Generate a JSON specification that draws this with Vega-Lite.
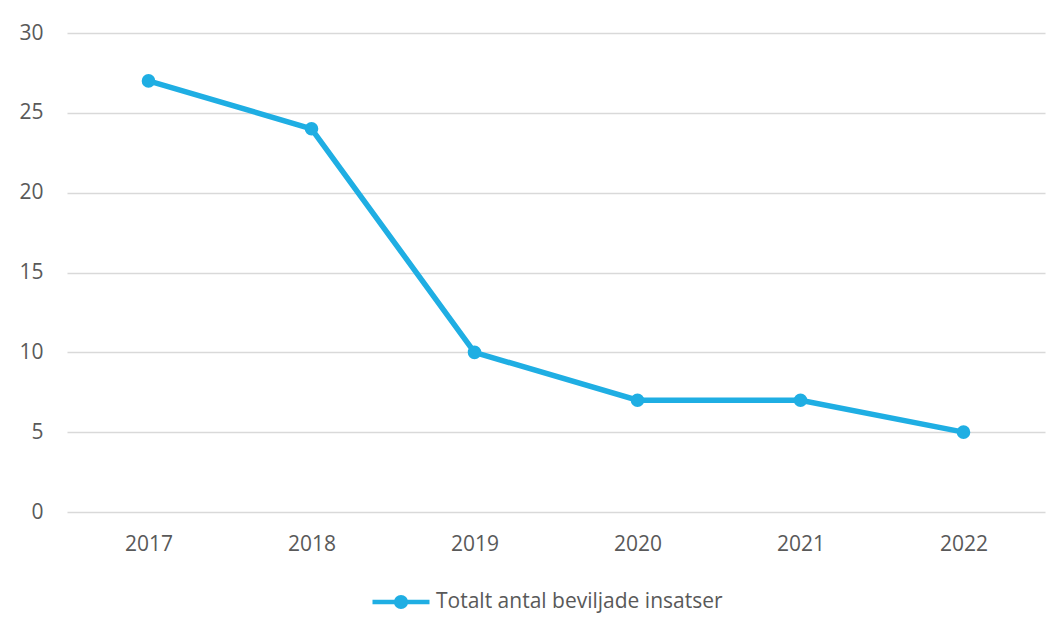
{
  "$schema": "https://vega.github.io/schema/vega-lite/v6.json",
  "autosize": "none",
  "width": 978,
  "height": 479,
  "padding": {"left": 67, "top": 33, "right": 18, "bottom": 118},
  "background": "white",
  "data": {"values": [
    {"year": "2017", "value": 27},
    {"year": "2018", "value": 24},
    {"year": "2019", "value": 10},
    {"year": "2020", "value": 7},
    {"year": "2021", "value": 7},
    {"year": "2022", "value": 5}
  ]},
  "mark": {"type": "line", "strokeWidth": 5.5, "point": {"size": 185, "filled": true, "opacity": 1}},
  "encoding": {
    "x": {"field": "year", "type": "ordinal", "title": null,
      "scale": {"type": "point", "padding": 0.5},
      "axis": {"labelAngle": 0, "domain": false, "ticks": false, "grid": false, "labelPadding": 21}},
    "y": {"field": "value", "type": "quantitative", "title": null,
      "scale": {"domain": [0, 30], "nice": false},
      "axis": {"values": [0, 5, 10, 15, 20, 25, 30], "domain": false, "ticks": false, "labelPadding": 24}},
    "color": {"datum": "Totalt antal beviljade insatser", "type": "nominal",
      "scale": {"range": ["#1FAEE3"]},
      "legend": {"title": null, "orient": "none", "legendX": 303, "legendY": 538, "padding": 0,
        "symbolType": "M-1,0L1,0M0.17,0A0.17,0.17 0 1,1 -0.17,0A0.17,0.17 0 1,1 0.17,0Z",
        "symbolSize": 3249, "symbolStrokeWidth": 4.5, "symbolFillColor": "#1FAEE3", "symbolStrokeColor": "#1FAEE3",
        "labelOffset": 4}}
  },
  "config": {
    "view": {"stroke": null},
    "font": "Open Sans",
    "axis": {"labelFont": "Open Sans", "labelFontSize": 21, "labelColor": "#595959", "gridColor": "#D9D9D9", "gridWidth": 1.5},
    "legend": {"labelFont": "Open Sans", "labelFontSize": 21, "labelColor": "#595959", "labelLimit": 500}
  }
}
